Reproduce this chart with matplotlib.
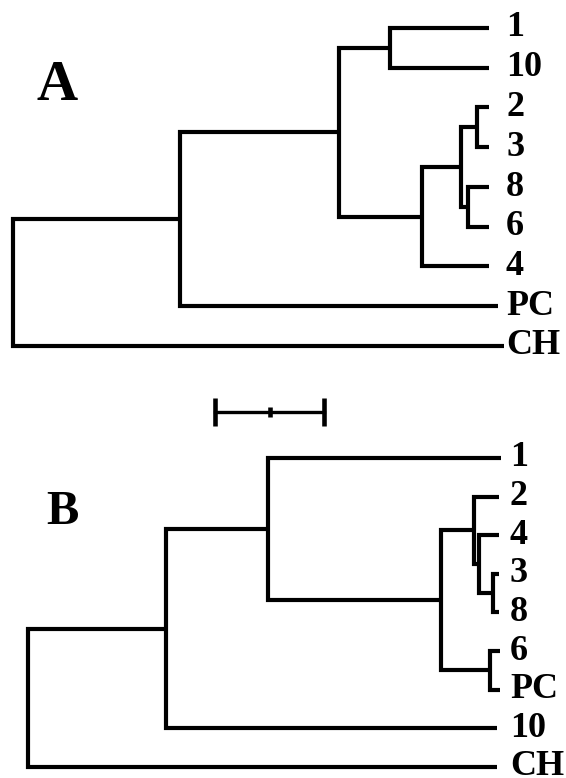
import numpy as np
import matplotlib
matplotlib.use("Agg")
import matplotlib.pyplot as plt

plt.rcParams['font.family'] = ['Liberation Serif', 'DejaVu Serif']
plt.rcParams['font.weight'] = 'bold'

# tree A: leaves top to bottom, tip depth of each leaf, merges as (child, child, node depth)
# leaves are 0..8, each merge makes a new node numbered 9, 10, ...
leaves_a = ['1', '10', '2', '3', '8', '6', '4', 'PC', 'CH']
tips_a = [0.437, 0.437, 0.437, 0.437, 0.437, 0.437, 0.437, 0.445, 0.450]
merges_a = [(0, 1, 0.346),
            (2, 3, 0.426),
            (4, 5, 0.417),
            (10, 11, 0.411),
            (12, 6, 0.375),
            (9, 13, 0.299),
            (14, 7, 0.153),
            (15, 8, 0.0)]

# tree B
leaves_b = ['1', '2', '4', '3', '8', '6', 'PC', '10', 'CH']
tips_b = [0.434, 0.432, 0.432, 0.432, 0.432, 0.433, 0.433, 0.430, 0.430]
merges_b = [(3, 4, 0.427),
            (2, 9, 0.414),
            (1, 10, 0.409),
            (5, 6, 0.424),
            (11, 12, 0.379),
            (0, 13, 0.220),
            (14, 7, 0.127),
            (15, 8, 0.0)]

scale_len = 0.1

W, H = 566, 778
PX = 1090.0  # pixels per unit of distance
LW = 3.0


def draw_tree(ax, leaves, tips, merges, label_x):
    xs = list(tips)
    ys = list(range(len(leaves)))
    for a, b, d in merges:
        ax.plot([xs[a], d, d, xs[b]], [ys[a], ys[a], ys[b], ys[b]],
                color='black', lw=LW, solid_joinstyle='miter',
                solid_capstyle='butt')
        xs.append(d)
        ys.append((ys[a] + ys[b]) / 2)
    for i, name in enumerate(leaves):
        ax.text(label_x, i, name, fontsize=26, fontweight='bold',
                ha='left', va='center')


def setup(ax, root_px, top_leaf_px, step_px, top_px, bot_px):
    ax.set_xlim(-root_px / PX, (W - root_px) / PX)
    ax.set_ylim((bot_px - top_leaf_px) / step_px, (top_px - top_leaf_px) / step_px)
    ax.axis('off')


fig = plt.figure(figsize=(W / 100, H / 100), dpi=100)
split = 390
axA = fig.add_axes([0, 1 - split / H, 1, split / H])
axB = fig.add_axes([0, 0, 1, 1 - split / H])

setup(axA, 13, 28, 39.75, 0, split)
setup(axB, 28, 458, 38.6, split, H)

draw_tree(axA, leaves_a, tips_a, merges_a, (506 - 13) / PX)
draw_tree(axB, leaves_b, tips_b, merges_b, (510 - 28) / PX)

# scale bar
sx0 = (215 - 28) / PX
sy = (412 - 458) / 38.6
axB.plot([sx0, sx0 + scale_len], [sy, sy], color='black', lw=LW * 0.8)
for xx, hh in [(sx0, 0.35), (sx0 + scale_len / 2, 0.13), (sx0 + scale_len, 0.35)]:
    axB.plot([xx, xx], [sy - hh, sy + hh], color='black', lw=LW * 1.1,
             solid_capstyle='butt')

fig.text(57 / W, 1 - 86 / H, 'A', fontsize=41, fontweight='bold',
         ha='center', va='center')
fig.text(62 / W, 1 - 512 / H, 'B', fontsize=35, fontweight='bold',
         ha='center', va='center')

fig.savefig('out.png', dpi=100)
